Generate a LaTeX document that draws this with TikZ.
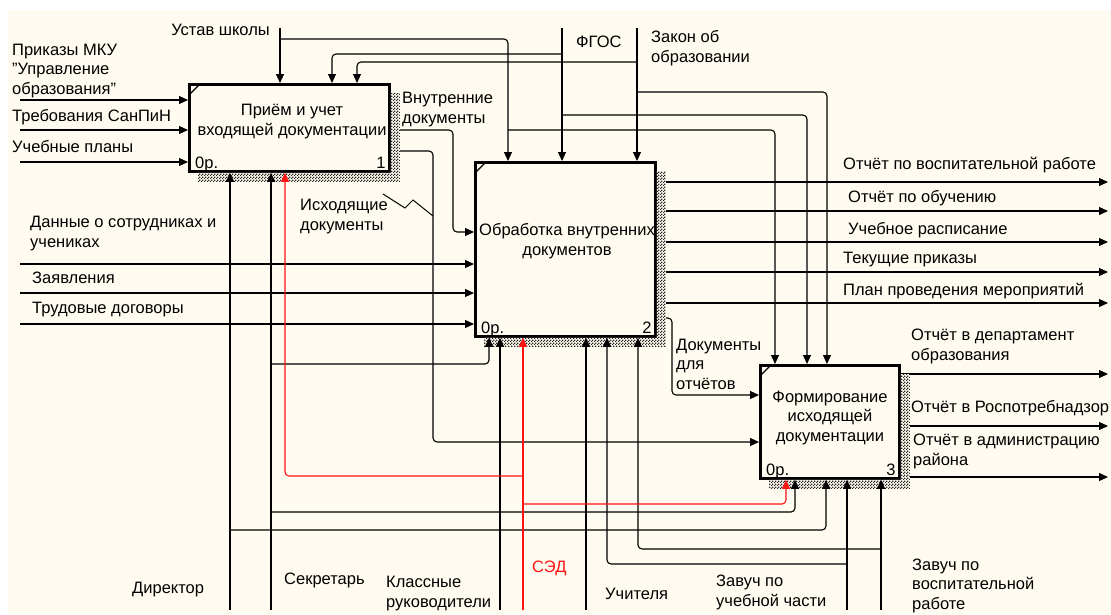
\documentclass[tikz,border=0pt]{standalone}
\usepackage{fontspec}
\setmainfont{Liberation Sans}
\usepackage{xcolor}
\usetikzlibrary{arrows.meta,positioning,calc,patterns,backgrounds}
\definecolor{idefbg}{RGB}{255,251,240}
\definecolor{sedred}{RGB}{255,20,20}
\pgfdeclarepatternformonly{checker}{\pgfqpoint{0pt}{0pt}}{\pgfqpoint{3pt}{3pt}}{\pgfqpoint{3pt}{3pt}}{
    \pgfpathrectangle{\pgfqpoint{0pt}{0pt}}{\pgfqpoint{1.5pt}{1.5pt}}
    \pgfpathrectangle{\pgfqpoint{1.5pt}{1.5pt}}{\pgfqpoint{1.5pt}{1.5pt}}
    \pgfusepath{fill}
}

\tikzset{
  arr/.style={-{Triangle[length=9pt,width=8pt]}, line width=1.1pt, rounded corners=4pt},
  func/.style={draw, line width=2.8pt, fill=idefbg, inner sep=0pt, anchor=north west},
  lbl/.style={font=\fontsize{16.5}{19.5}\selectfont, inner sep=0pt, align=left, anchor=base west},
  ftext/.style={font=\fontsize{16.5}{19.5}\selectfont, inner sep=0pt, align=center, anchor=base},
  shade/.style={preaction={fill=idefbg}, pattern=checker, pattern color=black!85},
}

\begin{document}
\begin{tikzpicture}[x=1pt, y=-1pt]
    \useasboundingbox (0,0) rectangle (1111,614);
    % function boxes
    \node[func, minimum width=200pt, minimum height=87pt] (priem) at (188,83) {};
    \node[func, minimum width=180pt, minimum height=174pt] (obrab) at (474,161) {};
    \node[func, minimum width=139pt, minimum height=113pt] (form) at (759,364) {};
    \node[ftext] at (292,135) {Приём и учет\\входящей документации};
    \node[ftext] at (567,255) {Обработка внутренних\\документов};
    \node[ftext] at (830,441) {Формирование\\исходящей\\документации};
    \foreach \b/\n in {priem/1, obrab/2, form/3} {
        \draw[line width=1.1pt] ($(\b.north west)+(2,11)$) -- ($(\b.north west)+(11,2)$);
        \node[lbl, anchor=base west] at ($(\b.south west)+(7,-4)$) {0р.};
        \node[lbl, anchor=base east] at ($(\b.south east)+(-5,-4)$) {\n};
    }

    \begin{scope}[on background layer]
        \fill[white] (0,0) rectangle (1111,614);
        \fill[idefbg] (8,10) rectangle (1111,614);
        % outputs
        \draw[arr] (priem.east |- 0,130) -- (453,130) -- (453,232) -- (obrab.west |- 0,232);
        \draw[arr] (priem.east |- 0,151) -- (433,151) -- (433,442) -- (form.west |- 0,442);
        \draw[arr] (obrab.east |- 0,318) -- (672,318) -- (672,395) -- (form.west |- 0,395);
        \foreach \y in {182,211,242,272,303}
            \draw[arr] (obrab.east |- 0,\y) -- (1108,\y);
        \foreach \y in {374,426,477}
            \draw[arr] (form.east |- 0,\y) -- (1108,\y);
    \end{scope}

    % shadows
    \foreach \b in {priem,obrab,form}
        \fill[shade] ($(\b.north east)+(0,10)$) -- ++(9,0) |- ($(\b.south west)+(10,9)$)
            -- ++(0,-9) -- (\b.south east) -- cycle;

    % inputs
    \coordinate (prikaz) at (20,100);
    \coordinate (sanpin) at (20,130);
    \coordinate (uplan) at (20,162);
    \coordinate (dannye) at (20,264);
    \coordinate (zayav) at (20,293);
    \coordinate (trud) at (20,324);
    \foreach \c in {prikaz,sanpin,uplan}
        \draw[arr] (\c) -- (\c -| priem.west);
    \foreach \c in {dannye,zayav,trud}
        \draw[arr] (\c) -- (\c -| obrab.west);

    % controls
    \coordinate (ustav) at (280,28);
    \coordinate (fgos) at (562,28);
    \coordinate (zakon) at (637,28);
    \draw[arr] (ustav) -- (ustav |- priem.north);
    \draw[arr] (280,39) -| (obrab.north -| 508,0);
    \draw[arr] (508,130) -| (form.north -| 775,0);
    \draw[arr] (fgos) -- (fgos |- obrab.north);
    \draw[arr] (562,54) -| (priem.north -| 332,0);
    \draw[arr] (562,115) -| (form.north -| 807,0);
    \draw[arr] (zakon) -- (zakon |- obrab.north);
    \draw[arr] (637,62) -| (priem.north -| 357,0);
    \draw[arr] (637,92) -| (form.north -| 827,0);

    % mechanisms
    \coordinate (dir) at (230,610);
    \coordinate (sekr) at (271,610);
    \coordinate (klass) at (500,610);
    \coordinate (sed) at (523,610);
    \coordinate (uchit) at (586,610);
    \coordinate (zuch) at (847,610);
    \coordinate (zvosp) at (881,610);
    \draw[arr] (dir) -- (dir |- priem.south);
    \draw[arr] (230,530) -| (form.south -| 826,0);
    \draw[arr] (sekr) -- (sekr |- priem.south);
    \draw[arr] (271,364) -| (obrab.south -| 489,0);
    \draw[arr] (271,512) -| (form.south -| 795,0);
    \draw[arr] (klass) -- (klass |- obrab.south);
    \draw[arr] (uchit) -- (uchit |- obrab.south);
    \draw[arr] (zuch) -- (zuch |- form.south);
    \draw[arr] (847,564) -| (obrab.south -| 607,0);
    \draw[arr] (zvosp) -- (zvosp |- form.south);
    \draw[arr] (881,549) -| (obrab.south -| 638,0);
    \draw[arr, sedred] (sed) -- (sed |- obrab.south);
    \draw[arr, sedred] (523,476) -| (priem.south -| 285,0);
    \draw[arr, sedred] (523,504) -| (form.south -| 786,0);

    \draw[line width=1pt] (383,194) -- (405,208) -- (413,200) -- (433,216);

    % labels
    \node[lbl, anchor=base east] at (270,35) {Устав школы};
    \node[lbl] at (576,47) {ФГОС};
    \node[lbl] at (651,62) {Закон об\\образовании};
    \node[lbl] at (12,94) {Приказы МКУ\\{\char34}Управление\\образования{\char34}};
    \node[lbl] at (12,121) {Требования СанПиН};
    \node[lbl] at (12,152) {Учебные планы};
    \node[lbl] at (402,123) {Внутренние\\документы};
    \node[lbl] at (300,230) {Исходящие\\документы};
    \node[lbl] at (30,247) {Данные о сотрудниках и\\учениках};
    \node[lbl] at (32,283) {Заявления};
    \node[lbl] at (32,313) {Трудовые договоры};
    \foreach \x/\y/\t in {843/169/Отчёт по воспитательной работе, 848/202/Отчёт по обучению,
        848/234/Учебное расписание, 843/263/Текущие приказы, 843/295/План проведения мероприятий}
        \node[lbl] at (\x,\y) {\t};
    \node[lbl] at (676,389) {Документы\\для\\отчётов};
    \node[lbl] at (911,360) {Отчёт в департамент\\образования};
    \node[lbl] at (911,412) {Отчёт в Роспотребнадзор};
    \node[lbl] at (913,465) {Отчёт в администрацию\\района};
    \node[lbl] at (132,593) {Директор};
    \node[lbl] at (284,584) {Секретарь};
    \node[lbl] at (386,607) {Классные\\руководители};
    \node[lbl, text=sedred] at (532,572) {СЭД};
    \node[lbl] at (605,599) {Учителя};
    \node[lbl] at (716,606) {Завуч по\\учебной части};
    \node[lbl] at (912,609) {Завуч по\\воспитательной\\работе};
\end{tikzpicture}
\end{document}
